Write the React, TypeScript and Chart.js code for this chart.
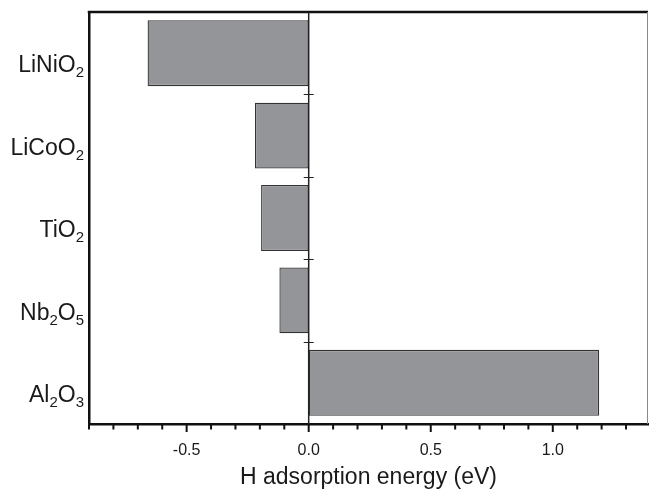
import React, { useEffect, useRef } from "react";
import { Chart, registerables } from "chart.js";

Chart.register(...registerables);

// ---- data ----
const categories = ["LiNiO2", "LiCoO2", "TiO2", "Nb2O5", "Al2O3"];
const energies = [-0.66, -0.22, -0.195, -0.12, 1.19];
const xMin = -0.9;
const xMax = 1.39;
const xStep = 0.1;
const majorStep = 0.5;
const xTitle = "H adsorption energy (eV)";

const FONT = '"Liberation Sans", Arial, Helvetica, sans-serif';
const TEXT = "#1a1a1a";

const isMajor = (v: number) => Math.abs(v / majorStep - Math.round(v / majorStep)) < 1e-6;

const decorPlugin = {
  id: "decor",
  afterDatasetsDraw(chart: any) {
    const { ctx, chartArea: ca, scales } = chart;
    const xs = scales.x;
    const ys = scales.y;
    ctx.save();

    // top border
    ctx.strokeStyle = "#111";
    ctx.lineWidth = 2.5;
    ctx.beginPath();
    ctx.moveTo(ca.left - 1.25, ca.top);
    ctx.lineTo(ca.right, ca.top);
    ctx.stroke();

    // right border
    ctx.strokeStyle = "#8a8a8a";
    ctx.lineWidth = 1;
    ctx.beginPath();
    ctx.moveTo(ca.right - 0.5, ca.top);
    ctx.lineTo(ca.right - 0.5, ca.bottom);
    ctx.stroke();

    // zero line
    const x0 = xs.getPixelForValue(0);
    ctx.strokeStyle = "#222";
    ctx.lineWidth = 1.5;
    ctx.beginPath();
    ctx.moveTo(x0, ca.top);
    ctx.lineTo(x0, ca.bottom);
    ctx.stroke();

    // category boundary ticks on zero line
    ctx.lineWidth = 1;
    for (let i = 1; i < categories.length; i++) {
      const yb = Math.round((ys.getPixelForValue(i - 1) + ys.getPixelForValue(i)) / 2) + 0.5;
      ctx.beginPath();
      ctx.moveTo(x0 - 5, yb);
      ctx.lineTo(x0 + 5, yb);
      ctx.stroke();
    }

    // x axis tick marks (outward)
    ctx.strokeStyle = "#111";
    ctx.lineWidth = 2;
    xs.ticks.forEach((t: any) => {
      const px = xs.getPixelForValue(t.value);
      const len = isMajor(t.value) ? 8 : 5.5;
      ctx.beginPath();
      ctx.moveTo(px, ca.bottom);
      ctx.lineTo(px, ca.bottom + len);
      ctx.stroke();
    });

    // y category labels with subscripts
    ctx.fillStyle = TEXT;
    ctx.textBaseline = "alphabetic";
    ctx.textAlign = "left";
    const labelRight = ca.left - 5;
    categories.forEach((cat, i) => {
      const cy = ys.getPixelForValue(i);
      const parts = cat.match(/[A-Za-z]+|\d+/g) || [cat];
      let total = 0;
      const segs = parts.map((p) => {
        const sub = /^\d/.test(p);
        ctx.font = `${sub ? 15 : 23}px ${FONT}`;
        const w = ctx.measureText(p).width;
        total += w;
        return { p, sub, w };
      });
      let cx = labelRight - total;
      const base = cy + 11 + 8.2;
      segs.forEach((s) => {
        ctx.font = `${s.sub ? 15 : 23}px ${FONT}`;
        ctx.fillText(s.p, cx, s.sub ? base + 5 : base);
        cx += s.w;
      });
    });

    ctx.restore();
  },
};

export default function App() {
  const ref = useRef<HTMLCanvasElement | null>(null);

  useEffect(() => {
    if (!ref.current) return;
    const chart = new Chart(ref.current, {
      type: "bar",
      data: {
        labels: categories,
        datasets: [
          {
            data: energies,
            backgroundColor: "#939598",
            borderColor: "#333333",
            borderWidth: 1.3,
            borderSkipped: false,
            categoryPercentage: 1,
            barPercentage: 0.8,
          },
        ],
      },
      options: {
        indexAxis: "y",
        animation: false,
        responsive: true,
        maintainAspectRatio: false,
        layout: { padding: { top: 12, right: 1, left: 0, bottom: 0 } },
        plugins: {
          legend: { display: false },
          tooltip: { enabled: false },
          title: { display: false },
        },
        scales: {
          x: {
            type: "linear",
            min: xMin,
            max: xMax,
            grid: { display: false, drawTicks: false },
            border: { display: true, color: "#111", width: 2.5 },
            ticks: {
              stepSize: xStep,
              includeBounds: false,
              autoSkip: false,
              maxRotation: 0,
              padding: 17,
              color: TEXT,
              font: { family: FONT, size: 16 },
              callback: (v: any) => (isMajor(Number(v)) ? Number(v).toFixed(1) : ""),
            },
            title: {
              display: true,
              text: xTitle,
              color: TEXT,
              font: { family: FONT, size: 23, lineHeight: 1.0 },
              padding: { top: 0, bottom: 0 },
            },
            afterFit: (scale: any) => {
              scale.height = 65;
            },
          },
          y: {
            type: "category",
            grid: { display: false, drawTicks: false },
            border: { display: true, color: "#111", width: 2.5 },
            ticks: { display: false },
            afterFit: (scale: any) => {
              scale.width = 89;
            },
          },
        },
      },
      plugins: [decorPlugin],
    });
    return () => chart.destroy();
  }, []);

  return (
    <div style={{ position: "fixed", left: 0, top: 0, width: 649, height: 489, background: "#fff" }}>
      <canvas ref={ref} />
    </div>
  );
}
